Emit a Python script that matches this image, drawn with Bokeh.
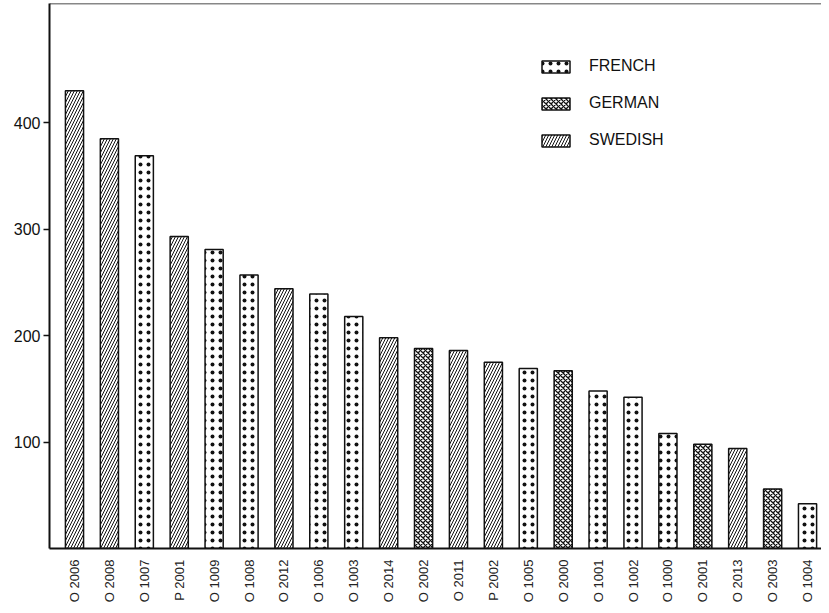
import math
from bokeh.plotting import figure
from bokeh.models import ColumnDataSource, Range1d, FixedTicker, Span, Legend, LegendItem
from bokeh.embed import file_html
from bokeh.resources import INLINE

# ---- data ----
labels = ["O 2006", "O 2008", "O 1007", "P 2001", "O 1009", "O 1008", "O 2012",
          "O 1006", "O 1003", "O 2014", "O 2002", "O 2011", "P 2002", "O 1005",
          "O 2000", "O 1001", "O 1002", "O 1000", "O 2001", "O 2013", "O 2003",
          "O 1004"]
values = [430, 385, 369, 293, 281, 257, 244, 239, 218, 198, 188, 186, 175, 169,
          167, 148, 142, 108, 98, 94, 56, 42]
language = ["SWEDISH", "SWEDISH", "FRENCH", "SWEDISH", "FRENCH", "FRENCH", "SWEDISH",
            "FRENCH", "FRENCH", "SWEDISH", "GERMAN", "SWEDISH", "SWEDISH", "FRENCH",
            "GERMAN", "FRENCH", "FRENCH", "FRENCH", "GERMAN", "SWEDISH", "GERMAN",
            "FRENCH"]
y_ticks = [100, 200, 300, 400]
legend_order = ["FRENCH", "GERMAN", "SWEDISH"]

INK = "#111111"
styles = {
    "FRENCH": dict(hatch_pattern=".", hatch_scale=8, hatch_weight=2.4),
    "GERMAN": dict(hatch_pattern="x", hatch_scale=5, hatch_weight=1.3),
    "SWEDISH": dict(hatch_pattern="/", hatch_scale=6, hatch_weight=1.0),
}

p = figure(width=821, height=605, output_backend="svg", toolbar_location=None,
           x_range=Range1d(-0.716, 21.40), y_range=Range1d(0, 512),
           min_border_left=49, min_border_right=0, min_border_top=3,
           min_border_bottom=54)
p.outline_line_color = None
p.xgrid.visible = False
p.ygrid.visible = False
p.background_fill_color = "white"
p.border_fill_color = "white"

renderers = {}
for lang in legend_order:
    idx = [i for i, l in enumerate(language) if l == lang]
    src = ColumnDataSource(dict(x=idx, top=[values[i] for i in idx]))
    r = p.vbar(x="x", top="top", bottom=0, width=0.52, source=src,
               fill_color="white", line_color=INK, line_width=1.5,
               hatch_color=INK, **styles[lang])
    renderers[lang] = r

legend = Legend(items=[LegendItem(label=l, renderers=[renderers[l]]) for l in legend_order],
                location=(489, 399), glyph_width=35, glyph_height=15,
                label_height=15, spacing=19, label_standoff=16,
                label_text_font="Liberation Sans", label_text_font_size="16px",
                label_text_color=INK, border_line_color=None,
                background_fill_alpha=0, padding=0, margin=0)
p.add_layout(legend, "center")

# top frame line
p.add_layout(Span(location=512, dimension="width", line_color=INK, line_width=1.5))

# y axis
ya = p.yaxis[0]
ya.ticker = FixedTicker(ticks=y_ticks)
ya.axis_line_color = INK
ya.axis_line_width = 2
ya.major_tick_in = 0
ya.major_tick_out = 6
ya.major_tick_line_width = 1.5
ya.major_tick_line_color = INK
ya.minor_tick_line_color = None
ya.major_label_text_font = "Liberation Sans"
ya.major_label_text_font_size = "16px"
ya.major_label_text_color = INK
ya.major_label_standoff = 3

# x axis
xa = p.xaxis[0]
xa.ticker = FixedTicker(ticks=list(range(len(labels))))
xa.major_label_overrides = {i: lab for i, lab in enumerate(labels)}
xa.major_label_orientation = math.pi / 2
xa.axis_line_color = INK
xa.axis_line_width = 2
xa.major_tick_line_color = None
xa.minor_tick_line_color = None
xa.major_label_text_font = "Liberation Sans"
xa.major_label_text_font_size = "13px"
xa.major_label_text_color = "#222222"
xa.major_label_standoff = 5

open("out.html", "w").write(file_html(p, INLINE))
